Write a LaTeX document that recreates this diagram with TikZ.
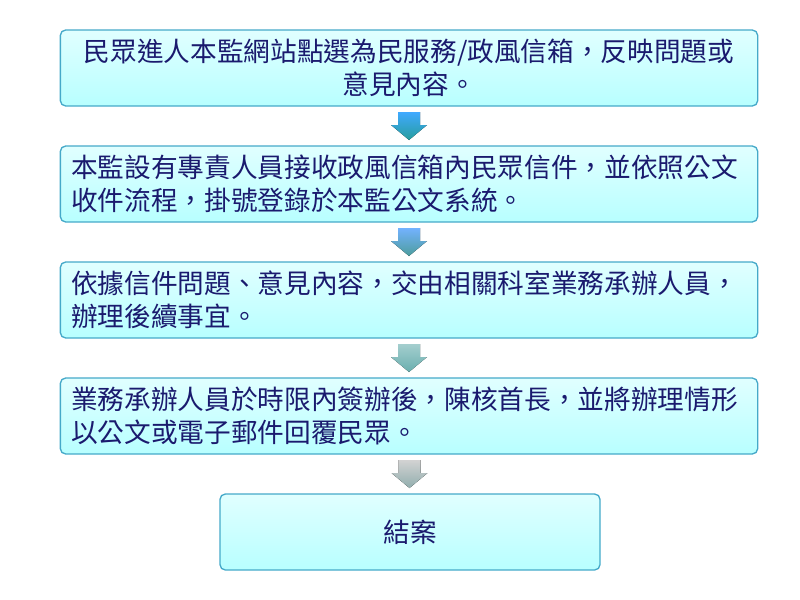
\documentclass[tikz,border=0pt]{standalone}
\usepackage{fontspec}
\setmainfont{Noto Sans CJK TC}
\usetikzlibrary{calc}
\definecolor{bord}{HTML}{45A9C9}
\definecolor{txt}{HTML}{1A1A6E}
\tikzset{
  px/.style={x=0.75pt,y=-0.75pt},
  flowbox/.style={draw=bord,line width=1pt,rounded corners=4pt,top color=cyan!12!white,bottom color=cyan!28!white,text=txt,font=\fontsize{20}{25}\selectfont,inner sep=0pt}
}
\newcommand{\downarr}[3]{%
  \fill[top color=#2,bottom color=#3] ($(#1)+(-11,-14)$) -- ++(22,0) -- ++(0,13) -- ++(7,0) -- ++(-18,15) -- ++(-18,-15) -- ++(7,0) -- cycle;}
\begin{document}
\begin{tikzpicture}[px]
\useasboundingbox (0,0) rectangle (800,600);
\node[flowbox,minimum width=523pt,minimum height=57pt,align=center] (b1) at (409,68) {民眾進人本監網站點選為民服務/政風信箱，反映問題或\\意見內容。};
\node[flowbox,minimum width=523pt,minimum height=57pt,align=left,text width=507pt] (b2) at (409,184) {本監設有專責人員接收政風信箱內民眾信件，並依照公文\\收件流程，掛號登錄於本監公文系統。};
\node[flowbox,minimum width=523pt,minimum height=57pt,align=left,text width=507pt] (b3) at (409,300) {依據信件問題、意見內容，交由相關科室業務承辦人員，\\辦理後續事宜。};
\node[flowbox,minimum width=523pt,minimum height=57pt,align=left,text width=507pt] (b4) at (409,416) {業務承辦人員於時限內簽辦後，陳核首長，並將辦理情形\\以公文或電子郵件回覆民眾。};
\node[flowbox,minimum width=285pt,minimum height=57pt] (b5) at (410,532) {結案};
\coordinate (m1) at ($(b1.south)!0.5!(b2.north)$);
\coordinate (m2) at ($(b2.south)!0.5!(b3.north)$);
\coordinate (m3) at ($(b3.south)!0.5!(b4.north)$);
\coordinate (m4) at ($(b4.south)!0.5!(b5.north)$);
\downarr{m1}{cyan!55!blue!75!white}{cyan!55!black!85}
\downarr{m2}{cyan!45!blue!55!white}{cyan!45!black!70}
\downarr{m3}{cyan!30!gray!55!white}{cyan!30!gray!90}
\downarr{m4}{gray!35!white}{cyan!15!gray!75}
\end{tikzpicture}
\end{document}
